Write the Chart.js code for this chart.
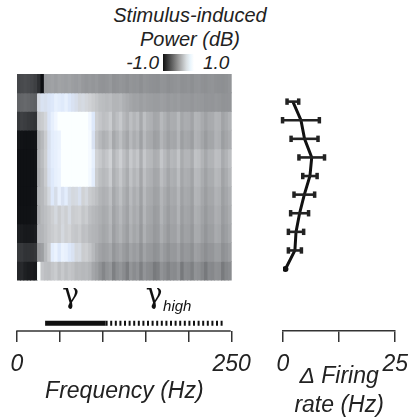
<!DOCTYPE html>
<html>
<head>
<meta charset="utf-8">
<script src="https://cdn.jsdelivr.net/npm/chart.js@4.4.1/dist/chart.umd.min.js"></script>
<style>
  html, body { margin: 0; padding: 0; background: #fff; }
  body { width: 417px; height: 418px; position: relative; overflow: hidden;
         font-family: "Liberation Sans", Arial, Helvetica, sans-serif; color: #222; }
  #title { position: absolute; left: 90px; width: 200px; top: 3px; text-align: center;
           font-size: 20px; line-height: 24px; font-style: italic; }
  .cb-label { position: absolute; top: 53px; font-size: 19px; line-height: 19px; font-style: italic; }
  #cbar { position: absolute; left: 163px; top: 54px; width: 31px; height: 17px;
          background: linear-gradient(to right, #111 0%, #555 25%, #9a9a9a 50%, #d8dde0 75%, #eaf5fc 88%, #fff 100%); }
  #heat { position: absolute; left: 0; top: 74px; }
  #rate { position: absolute; left: 260px; top: 74px; }
</style>
</head>
<body>
<div id="title">Stimulus-induced<br>Power (dB)</div>
<div class="cb-label" style="right: 258px;">-1.0</div>
<div id="cbar"></div>
<div class="cb-label" style="left: 203px;">1.0</div>
<canvas id="heat" width="260" height="344"></canvas>
<canvas id="rate" width="157" height="350"></canvas>
<script>
// Stimulus-induced power spectrum (rows top -> bottom) and firing-rate change

// frequency bin centres (Hz), 4 Hz bins
const freqBins = [2, 6, 10, 14, 18, 22, 26, 30, 34, 38, 42, 46, 50, 54, 58, 62, 66, 70, 74, 78,
  82, 86, 90, 94, 98, 102, 106, 110, 114, 118, 122, 126, 130, 134, 138, 142, 146, 150, 154, 158,
  162, 166, 170, 174, 178, 182, 186, 190, 194, 198, 202, 206, 210, 214, 218, 222, 226, 230, 234, 238,
  242, 246, 250];

// power in dB, one array per row, top row first
const row01 = [-0.45, -0.42, -0.4, -0.42, -0.45, -0.5, -0.62, -0.88, 0.22, 0.25, 0.27, 0.24, 0.28, 0.26, 0.25, 0.27, 0.24, 0.22, 0.25, 0.2, 0.18, 0.2,
  0.18, 0.2, 0.16, 0.15, 0.17, 0.2, 0.14, 0.15, 0.18, 0.16, 0.13, 0.17, 0.15, 0.16, 0.12, 0.17, 0.15, 0.14, 0.13, 0.12, 0.16, 0.15, 0.12, 0.14, 0.15, 0.17, 0.13, 0.14, 0.15, 0.12, 0.16, 0.17, 0.14, 0.13, 0.15, 0.16, 0.14, 0.13, 0.12, 0.14, 0.17];
const row02 = [-0.22, -0.2, -0.18, -0.2, -0.22, -0.25, 0.72, 0.8, 0.78, 0.82, 0.85, 0.9, 0.88, 0.86, 0.9, 0.85, 0.8, 0.76, 0.7, 0.72, 0.68, 0.65,
  0.6, 0.55, 0.5, 0.48, 0.46, 0.48, 0.42, 0.42, 0.44, 0.38, 0.34, 0.3, 0.27, 0.28, 0.24, 0.27, 0.25, 0.24, 0.22, 0.22, 0.25, 0.23, 0.2, 0.22, 0.21, 0.23, 0.19, 0.2, 0.2, 0.18, 0.21, 0.2, 0.19, 0.17, 0.18, 0.17, 0.19, 0.18, 0.15, 0.16, 0.17];
const row03 = [-0.55, -0.5, -0.52, -0.55, -0.58, -0.6, 0.55, 0.6, 0.68, 0.82, 0.9, 0.95, 1, 1, 1, 1, 1, 1, 1, 1, 1, 0.95,
  0.85, 0.62, 0.55, 0.5, 0.52, 0.6, 0.42, 0.5, 0.58, 0.45, 0.38, 0.5, 0.42, 0.48, 0.32, 0.5, 0.4, 0.38, 0.3, 0.32, 0.45, 0.38, 0.3, 0.36, 0.35, 0.45, 0.3, 0.36, 0.35, 0.28, 0.42, 0.4, 0.33, 0.27, 0.33, 0.34, 0.42, 0.4, 0.28, 0.33, 0.4];
const row04 = [-0.82, -0.85, -0.86, -0.86, -0.86, -0.85, 0.35, 0.45, 0.6, 0.78, 0.88, 0.9, 0.92, 1, 1, 1, 1, 1, 1, 1, 1, 0.97,
  0.8, 0.55, 0.45, 0.38, 0.42, 0.52, 0.32, 0.4, 0.5, 0.38, 0.3, 0.45, 0.36, 0.42, 0.26, 0.45, 0.35, 0.33, 0.25, 0.27, 0.42, 0.34, 0.26, 0.32, 0.3, 0.42, 0.25, 0.32, 0.3, 0.24, 0.4, 0.38, 0.3, 0.22, 0.3, 0.3, 0.4, 0.38, 0.24, 0.3, 0.36];
const row05 = [-0.86, -0.87, -0.87, -0.87, -0.87, -0.86, 0.38, 0.48, 0.62, 0.8, 0.88, 0.9, 0.93, 1, 1, 1, 1, 1, 1, 1, 1, 0.97,
  0.9, 0.65, 0.58, 0.5, 0.55, 0.65, 0.42, 0.52, 0.62, 0.5, 0.4, 0.58, 0.48, 0.55, 0.36, 0.56, 0.46, 0.44, 0.36, 0.38, 0.55, 0.45, 0.36, 0.44, 0.42, 0.54, 0.34, 0.42, 0.42, 0.34, 0.52, 0.5, 0.4, 0.32, 0.4, 0.4, 0.5, 0.48, 0.33, 0.4, 0.5];
const row06 = [-0.86, -0.87, -0.87, -0.87, -0.87, -0.86, 0.36, 0.45, 0.6, 0.78, 0.86, 0.9, 0.92, 1, 1, 1, 1, 1, 1, 1, 1, 0.96,
  0.88, 0.6, 0.5, 0.45, 0.48, 0.6, 0.38, 0.46, 0.56, 0.44, 0.35, 0.52, 0.42, 0.48, 0.3, 0.5, 0.4, 0.38, 0.3, 0.32, 0.48, 0.4, 0.3, 0.38, 0.36, 0.48, 0.3, 0.37, 0.36, 0.28, 0.46, 0.44, 0.35, 0.27, 0.35, 0.35, 0.45, 0.43, 0.28, 0.35, 0.44];
const row07 = [-0.86, -0.87, -0.87, -0.87, -0.86, -0.85, 0.4, 0.45, 0.55, 0.7, 0.85, 0.75, 0.9, 0.8, 0.88, 0.75, 0.7, 0.72, 0.78, 0.65, 0.7, 0.6,
  0.55, 0.5, 0.42, 0.38, 0.4, 0.5, 0.32, 0.4, 0.5, 0.38, 0.3, 0.46, 0.36, 0.42, 0.26, 0.45, 0.35, 0.33, 0.26, 0.28, 0.42, 0.34, 0.26, 0.33, 0.32, 0.43, 0.26, 0.33, 0.32, 0.25, 0.42, 0.4, 0.31, 0.24, 0.31, 0.31, 0.4, 0.38, 0.25, 0.31, 0.38];
const row08 = [-0.85, -0.86, -0.86, -0.86, -0.85, -0.84, 0.35, 0.45, 0.5, 0.55, 0.62, 0.7, 0.6, 0.68, 0.62, 0.72, 0.6, 0.62, 0.65, 0.55, 0.6, 0.5,
  0.45, 0.42, 0.38, 0.33, 0.36, 0.45, 0.28, 0.36, 0.44, 0.34, 0.27, 0.42, 0.33, 0.38, 0.23, 0.42, 0.32, 0.3, 0.22, 0.25, 0.4, 0.31, 0.23, 0.3, 0.29, 0.4, 0.23, 0.3, 0.29, 0.22, 0.38, 0.36, 0.28, 0.21, 0.28, 0.28, 0.37, 0.35, 0.22, 0.28, 0.35];
const row09 = [-0.76, -0.78, -0.8, -0.8, -0.8, -0.78, 0.4, 0.42, 0.48, 0.55, 0.6, 0.65, 0.6, 0.7, 0.62, 0.66, 0.58, 0.55, 0.6, 0.5, 0.52, 0.45,
  0.42, 0.4, 0.35, 0.3, 0.33, 0.42, 0.25, 0.33, 0.4, 0.31, 0.24, 0.38, 0.3, 0.35, 0.2, 0.38, 0.29, 0.27, 0.2, 0.22, 0.36, 0.28, 0.2, 0.27, 0.26, 0.36, 0.2, 0.27, 0.26, 0.19, 0.34, 0.33, 0.25, 0.18, 0.25, 0.25, 0.34, 0.32, 0.19, 0.25, 0.32];
const row10 = [-0.55, -0.55, -0.6, -0.6, -0.6, -0.58, 0.2, 0.25, 0.45, 0.6, 0.88, 0.92, 0.85, 0.92, 0.9, 0.85, 0.8, 0.7, 0.72, 0.6, 0.62, 0.55,
  0.45, 0.35, 0.28, 0.24, 0.26, 0.32, 0.18, 0.25, 0.3, 0.22, 0.17, 0.28, 0.22, 0.26, 0.14, 0.28, 0.21, 0.2, 0.14, 0.16, 0.27, 0.2, 0.14, 0.2, 0.19, 0.27, 0.14, 0.2, 0.19, 0.13, 0.26, 0.24, 0.18, 0.12, 0.18, 0.18, 0.25, 0.24, 0.13, 0.18, 0.24];
const row11 = [-0.7, -0.68, -0.75, -0.78, -0.78, -0.8, 1, 0.55, 0.5, 0.48, 0.55, 0.6, 0.5, 0.58, 0.5, 0.55, 0.52, 0.45, 0.47, 0.44, 0.46, 0.42,
  0.3, 0.25, 0.15, 0.05, 0.15, 0.2, 0, 0.12, 0.18, 0.1, -0.02, 0.17, 0.1, 0.15, 0, 0.16, 0.1, 0.08, -0.04, 0, 0.15, 0.1, 0.02, 0.1, 0.08, 0.16, -0.05, 0.1, 0.08, 0, 0.15, 0.13, 0.06, -0.05, 0.08, 0.07, 0.14, 0.12, -0.04, 0.06, 0.1];
const powerRows = [row01, row02, row03, row04, row05, row06, row07, row08, row09, row10, row11];

// gamma bands (Hz)
const bandNames = ['γ', 'γ'];
const bandSubs = ['', 'high'];
const bandRanges = [[33, 104], [104, 244]];
const bandLabelHz = [63, 161];

// firing-rate change (Hz), top point first, with horizontal error
const rateLevel = [9, 8, 7, 6, 5, 4, 3, 2, 1, 0];
const rateMean = [2.2, 4.0, 4.8, 6.4, 6.0, 4.75, 3.7, 2.9, 2.65, 0.55];
const rateErr = [1.3, 4.1, 3.0, 2.85, 1.6, 2.3, 2.0, 1.7, 1.45, 0];

const textFont = '"Liberation Sans", Arial, Helvetica, sans-serif';
const ink = '#222';

// black -> white, with a pale blue tint just below white
function powerColor(v) {
  const t = Math.max(0, Math.min(1, (v + 1) / 2));
  const g = t * 255;
  const tint = Math.max(0, 1 - Math.abs(t - 0.92) / 0.09);
  const r = Math.round(g - 2 - 14 * tint);
  const gg = Math.round(g - 4 * tint);
  const b = Math.min(255, Math.round(g + 3 + 12 * tint));
  return `rgb(${Math.max(0, r)},${gg},${b})`;
}

const nRows = powerRows.length;
const heatDatasets = powerRows.map((row, i) => {
  const level = nRows - 1 - i;
  return {
    type: 'bar',
    data: freqBins.map(f => ({ x: f, y: [level, level + 1] })),
    backgroundColor: row.map(powerColor),
    borderWidth: 0,
    grouped: false,
    barPercentage: 1,
    categoryPercentage: 1,
    inflateAmount: 0.4
  };
});

const bandDatasets = bandRanges.map((r, i) => ({
  type: 'line',
  data: [{ x: r[0], y: -2.3 }, { x: r[1], y: -2.3 }],
  borderColor: '#111',
  borderWidth: 5,
  borderCapStyle: 'butt',
  borderDash: i === 0 ? [] : [2, 2.6],
  pointRadius: 0,
  stack: 'band' + i
}));

// axis line from 0 to 250 Hz only
const freqAxisLine = {
  id: 'freqAxisLine',
  afterDraw(chart) {
    const { ctx, chartArea, scales } = chart;
    ctx.save();
    ctx.strokeStyle = '#333';
    ctx.lineWidth = 1.5;
    ctx.beginPath();
    ctx.moveTo(scales.x.getPixelForValue(0) - 0.75, chartArea.bottom);
    ctx.lineTo(scales.x.getPixelForValue(250) + 0.75, chartArea.bottom);
    ctx.stroke();
    ctx.restore();
  }
};

const bandLabels = {
  id: 'bandLabels',
  afterDraw(chart) {
    const { ctx, chartArea, scales } = chart;
    ctx.save();
    ctx.fillStyle = '#111';
    ctx.textBaseline = 'alphabetic';
    bandNames.forEach((name, i) => {
      const x = scales.x.getPixelForValue(bandLabelHz[i]);
      const y = chartArea.bottom - 28;
      ctx.font = '28px "DejaVu Serif", "Liberation Serif", serif';
      ctx.textAlign = 'center';
      ctx.fillText(name, x, y);
      if (bandSubs[i]) {
        const w = ctx.measureText(name).width;
        ctx.font = 'italic 15px ' + textFont;
        ctx.textAlign = 'left';
        ctx.fillText(bandSubs[i], x + w / 2 + 0.5, y + 8);
      }
    });
    ctx.restore();
  }
};

new Chart(document.getElementById('heat'), {
  type: 'bar',
  data: { datasets: [...bandDatasets, ...heatDatasets] },
  options: {
    responsive: false,
    animation: false,
    events: [],
    layout: { padding: { left: 17, right: 28.3, top: 0, bottom: 0 } },
    plugins: { legend: { display: false }, tooltip: { enabled: false } },
    scales: {
      x: {
        type: 'linear', min: 0, max: 252, offset: false,
        afterFit: scale => { scale.height = 87; },
        border: { display: false },
        grid: { offset: false, drawOnChartArea: false, drawTicks: true, tickLength: 11, lineWidth: 1.5, color: '#333' },
        ticks: {
          stepSize: 50, includeBounds: false, autoSkip: false, maxRotation: 0, padding: 9,
          color: ink, font: { family: textFont, size: 23, style: 'italic' },
          callback: v => Math.abs(v) < 1e-6 ? '0' : (Math.abs(v - 250) < 3 ? '250' : '')
        },
        title: {
          display: true, text: 'Frequency (Hz)', color: ink, padding: { top: 0, bottom: 13 },
          font: { family: textFont, size: 23, style: 'italic' }
        }
      },
      y: { type: 'linear', min: -2.72, max: 11, display: false }
    }
  },
  plugins: [freqAxisLine, bandLabels]
});

// horizontal error bars with block caps
const rateErrorBars = {
  id: 'rateErrorBars',
  afterDatasetsDraw(chart) {
    const { ctx, scales } = chart;
    ctx.save();
    ctx.strokeStyle = '#222';
    ctx.fillStyle = '#222';
    ctx.lineWidth = 2.6;
    rateMean.forEach((m, i) => {
      if (!rateErr[i]) return;
      const y = scales.y.getPixelForValue(rateLevel[i]);
      const x0 = scales.x.getPixelForValue(m - rateErr[i]);
      const x1 = scales.x.getPixelForValue(m + rateErr[i]);
      ctx.beginPath();
      ctx.moveTo(x0, y); ctx.lineTo(x1, y);
      ctx.stroke();
      ctx.fillRect(x0 - 1.75, y - 3.2, 3.5, 6.4);
      ctx.fillRect(x1 - 1.75, y - 3.2, 3.5, 6.4);
    });
    ctx.restore();
  }
};

new Chart(document.getElementById('rate'), {
  type: 'line',
  data: {
    datasets: [{
      data: rateMean.map((m, i) => ({ x: m, y: rateLevel[i] })),
      borderColor: '#111',
      borderWidth: 3,
      tension: 0,
      pointRadius: rateMean.map((m, i) => rateErr[i] ? 0 : 3),
      pointBackgroundColor: '#111',
      pointBorderWidth: 0
    }]
  },
  options: {
    responsive: false,
    animation: false,
    events: [],
    layout: { padding: { left: 23, right: 17, top: 0, bottom: 0 } },
    plugins: { legend: { display: false }, tooltip: { enabled: false } },
    scales: {
      x: {
        type: 'linear', min: 0, max: 25,
        afterFit: scale => { scale.height = 93; },
        border: { display: true, color: '#333', width: 1.5 },
        grid: { drawOnChartArea: false, drawTicks: true, tickLength: 11, lineWidth: 1.5, color: '#333' },
        ticks: {
          stepSize: 12.5, autoSkip: false, maxRotation: 0, padding: 9,
          color: ink, font: { family: textFont, size: 23, style: 'italic' },
          callback: v => (v === 0 || v === 25) ? String(v) : ''
        },
        title: {
          display: true, text: ['Δ Firing', 'rate (Hz)'], color: ink, padding: { top: 0, bottom: 3.5 },
          font: { family: textFont, size: 23, style: 'italic', lineHeight: 1.26 }
        }
      },
      y: { type: 'linear', min: -3.33, max: 10.27, display: false }
    }
  },
  plugins: [rateErrorBars]
});
</script>
</body>
</html>
